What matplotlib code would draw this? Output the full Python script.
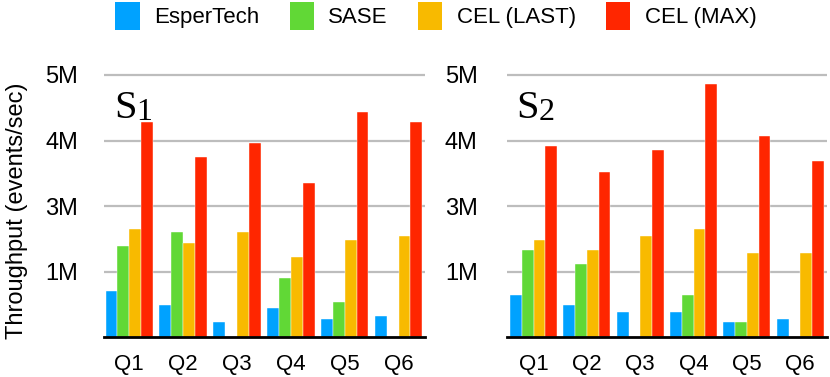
import numpy as np
import matplotlib
matplotlib.use('Agg')
import matplotlib.pyplot as plt
from matplotlib.patches import Patch

plt.rcParams['font.family'] = ['Liberation Sans', 'DejaVu Sans']

# Data (heights in grid steps; axis labels as printed on the original)
queries = ['Q1', 'Q2', 'Q3', 'Q4', 'Q5', 'Q6']
systems = ['EsperTech', 'SASE', 'CEL (LAST)', 'CEL (MAX)']
colors = ['#00A2FF', '#61D836', '#F8BA00', '#FF2600']
tick_pos = [1, 2, 3, 4]
tick_labels = ['1M', '3M', '4M', '5M']

s1_esper = [0.70, 0.49, 0.23, 0.44, 0.28, 0.33]
s1_sase = [1.39, 1.60, 0.00, 0.91, 0.54, 0.00]
s1_last = [1.65, 1.44, 1.60, 1.23, 1.49, 1.55]
s1_max = [3.29, 2.75, 2.97, 2.36, 3.44, 3.29]

s2_esper = [0.65, 0.49, 0.38, 0.38, 0.23, 0.28]
s2_sase = [1.33, 1.12, 0.00, 0.65, 0.23, 0.00]
s2_last = [1.49, 1.33, 1.55, 1.65, 1.28, 1.28]
s2_max = [2.91, 2.52, 2.86, 3.86, 3.07, 2.69]

fig = plt.figure(figsize=(8.3, 3.77), dpi=100)
ax1 = fig.add_axes([0.1259, 0.1053, 0.3867, 0.7046])
ax2 = fig.add_axes([0.6108, 0.1053, 0.3855, 0.7046])

x = np.arange(len(queries))
bw = 0.22


def draw_panel(ax, series, name, xlim, ypad):
    for i, vals in enumerate(series):
        ax.bar(x - 1.5 * bw + i * bw, vals, width=bw, color=colors[i],
               edgecolor='white', linewidth=0.3, zorder=3)
    ax.set_xlim(*xlim)
    ax.set_ylim(0, 4.05)
    ax.set_xticks(x)
    ax.set_xticklabels(queries, fontsize=16)
    ax.set_yticks(tick_pos)
    ax.set_yticklabels(tick_labels, fontsize=17)
    ax.tick_params(axis='both', length=0)
    ax.tick_params(axis='x', pad=12)
    ax.tick_params(axis='y', pad=ypad)
    ax.yaxis.grid(True, color='#BDBDBD', linewidth=1.6, zorder=0)
    for side in ['top', 'right', 'left']:
        ax.spines[side].set_visible(False)
    ax.spines['bottom'].set_linewidth(2.0)
    ax.spines['bottom'].set_zorder(4)
    s = ax.text(0.03, 0.825, 'S', transform=ax.transAxes, fontsize=29,
                family='Liberation Serif', va='baseline')
    ax.annotate(name, xy=(1, 0), xycoords=s, fontsize=23,
                family='Liberation Serif', va='bottom', ha='left')


draw_panel(ax1, [s1_esper, s1_sase, s1_last, s1_max], '1', (-0.46, 5.5), 19)
draw_panel(ax2, [s2_esper, s2_sase, s2_last, s2_max], '2', (-0.5, 5.5), 21)

fig.text(17 / 830, 0.44, 'Throughput (events/sec)', rotation=90,
         fontsize=17, ha='center', va='center')

handles = [Patch(facecolor=c, edgecolor='none') for c in colors]
fig.legend(handles, systems, loc='center', bbox_to_anchor=(436 / 830, 1 - 16 / 377),
           ncol=4, frameon=False, fontsize=16, handlelength=1.1,
           handleheight=1.5, handletextpad=0.65, columnspacing=1.35,
           borderpad=0)

fig.savefig('out.png', dpi=100)
